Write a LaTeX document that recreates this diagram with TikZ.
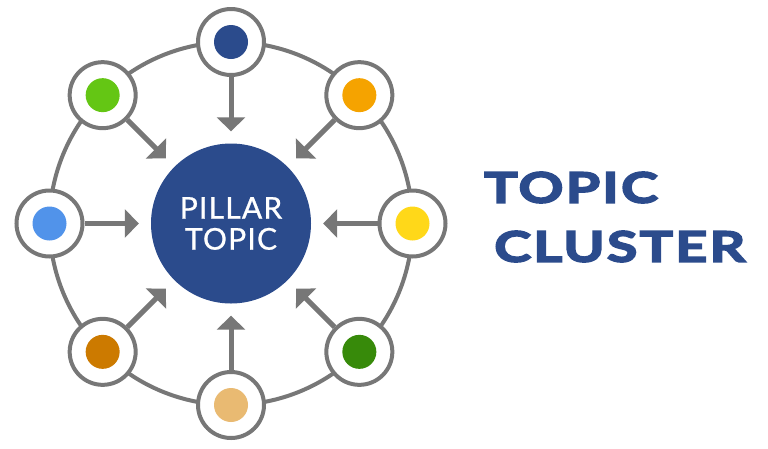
\documentclass[tikz,border=0pt]{standalone}
\usepackage{fontspec}
\setmainfont{Lato}
\newfontfamily\titlefont[FakeStretch=1.33,LetterSpace=5,FakeBold=4]{Lato Bold}
\newfontfamily\pillarfont[LetterSpace=4,FakeBold=0.8]{Lato}
\usetikzlibrary{arrows.meta,calc}
\definecolor{ringgray}{HTML}{777777}
\definecolor{navy}{HTML}{2B4B8C}
\definecolor{cgreen}{HTML}{64C614}
\definecolor{corange}{HTML}{F5A300}
\definecolor{cyellow}{HTML}{FFD819}
\definecolor{cdkgreen}{HTML}{378A0A}
\definecolor{ctan}{HTML}{E9BA72}
\definecolor{cdkorange}{HTML}{CC7A00}
\definecolor{cblue}{HTML}{5193EA}
\begin{document}
\begin{tikzpicture}[x=1pt,y=-1pt,
  sat/.style={circle,draw=ringgray,line width=4pt,fill=white,minimum size=66pt,inner sep=0pt},
  arr/.style={draw=ringgray,line width=5pt,-{Triangle[width=28pt,length=14pt]},shorten >=12pt},
  ring/.style={draw=ringgray,line width=4pt}]
\useasboundingbox (0,0) rectangle (768,448);
\draw[ring] (231,223.5) circle (181.5);
\node[circle,fill=navy,minimum size=160pt,inner sep=0pt,text=white,font=\pillarfont\fontsize{30}{31}\selectfont,align=center] (c) at (231,223.5) {PILLAR\\TOPIC};
\foreach \i/\ang/\col in {1/90/navy,2/45/corange,3/0/cyellow,4/-45/cdkgreen,5/-90/ctan,6/-135/cdkorange,7/180/cblue,8/135/cgreen}{
  \node[sat] (n\i) at ($(231,223.5)+(\ang:181.5 and -181.5)$) {};
  \fill[\col] (n\i.center) circle (17);
  \draw[arr] (n\i) -- (c);
}
\node[anchor=west,text=navy,font=\titlefont\fontsize{42}{59}\selectfont,align=left,inner sep=0pt] (t) at (484,217) {TOPIC\\\hspace*{10pt}CLUSTER};
\end{tikzpicture}
\end{document}
